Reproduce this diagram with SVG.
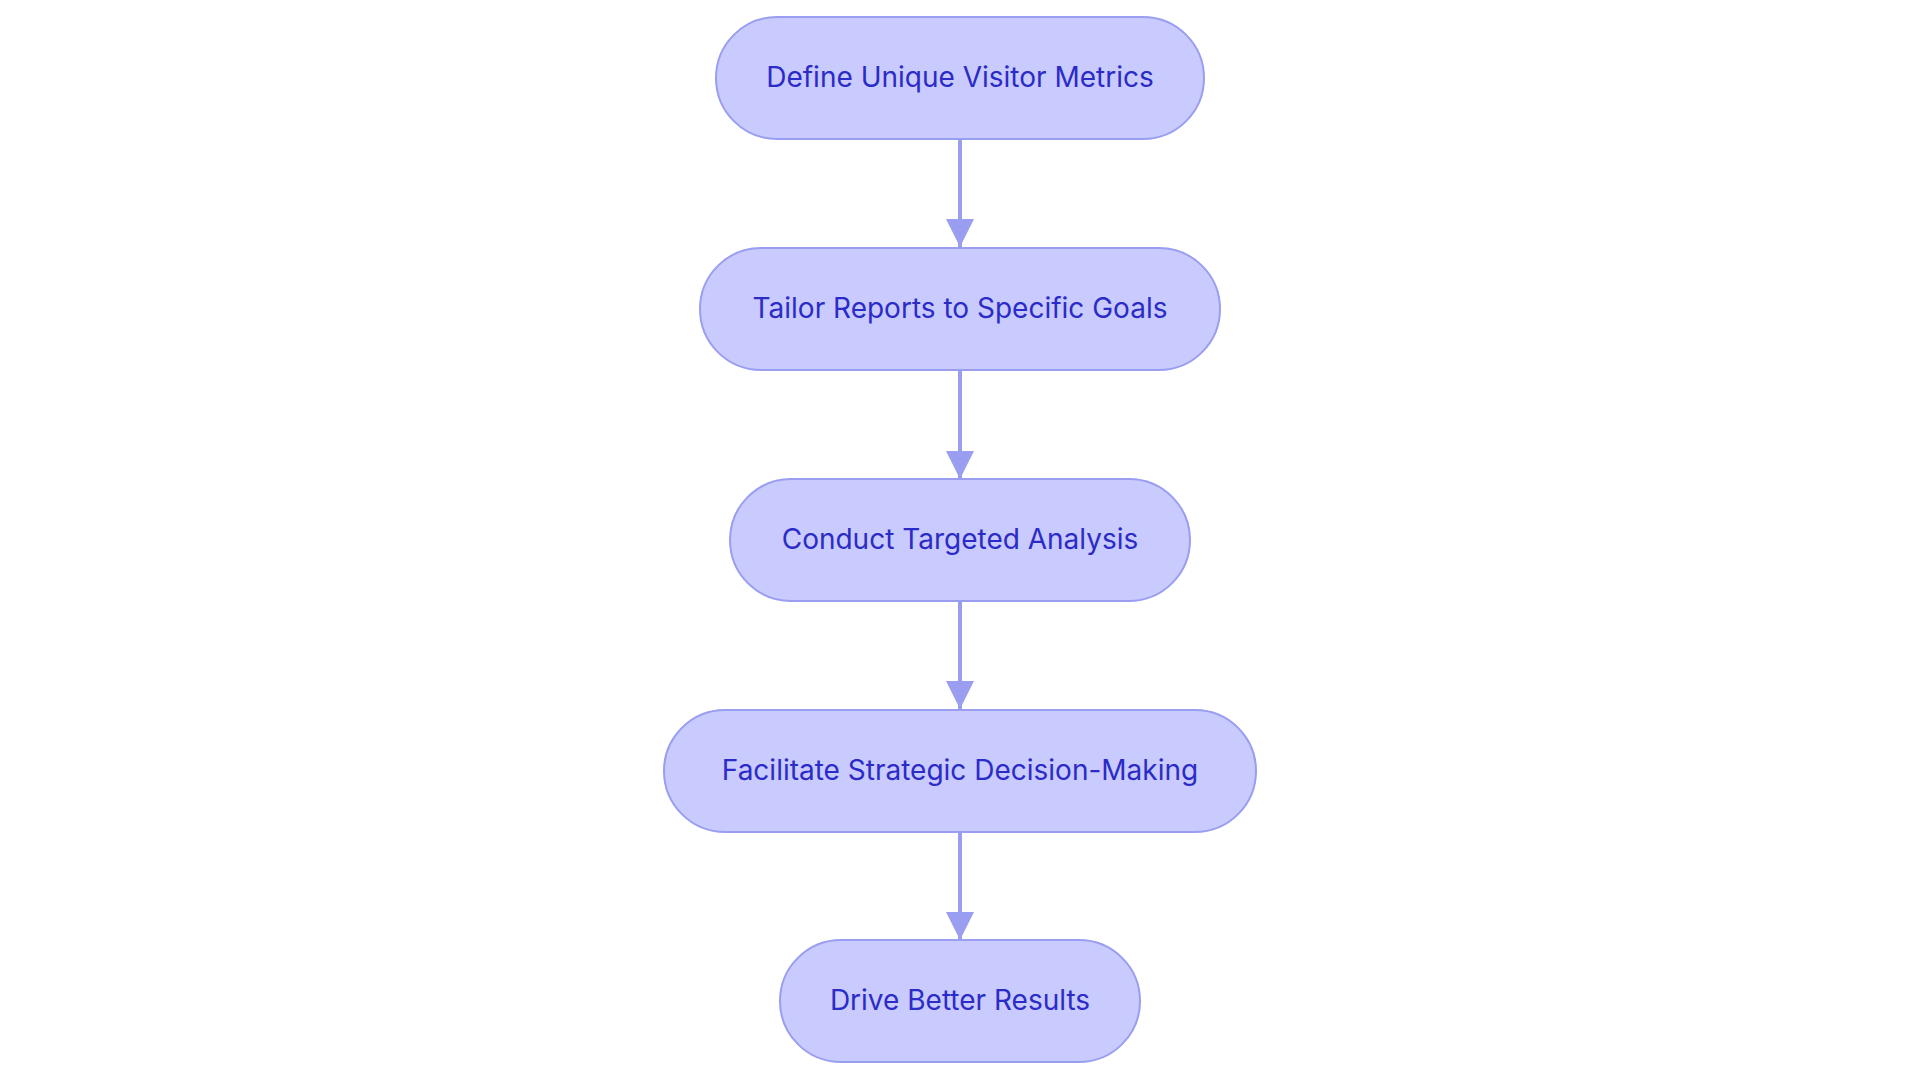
<svg xmlns="http://www.w3.org/2000/svg" width="1920" height="1083" viewBox="0 0 1920 1083">
<style>
.n{fill:#c9cafd;stroke:#9a9ef0;stroke-width:2}
.t{font-family:Inter,"Noto Sans",sans-serif;font-size:28px;fill:#2b2bc8;text-anchor:middle;dominant-baseline:central}
.e{stroke:#9a9ef0;stroke-width:4;fill:none}
</style>
<defs><marker id="a" viewBox="0 0 10 10" refX="10" refY="5" markerWidth="7" markerHeight="7" markerUnits="strokeWidth" orient="auto"><path d="M0,0L10,5L0,10z" fill="#9a9ef0"/></marker></defs>
<g id="edges">
<path class="e" d="M960,139V247" marker-end="url(#a)"/>
<path class="e" d="M960,370V479" marker-end="url(#a)"/>
<path class="e" d="M960,601V709" marker-end="url(#a)"/>
<path class="e" d="M960,832V940" marker-end="url(#a)"/>
</g>
<g id="n1"><rect class="n" x="716" y="17" width="488" height="122" rx="61"/><text class="t" x="960" y="77">Define Unique Visitor Metrics</text></g>
<g id="n2"><rect class="n" x="700" y="248" width="520" height="122" rx="61"/><text class="t" x="960" y="308">Tailor Reports to Specific Goals</text></g>
<g id="n3"><rect class="n" x="730" y="479" width="460" height="122" rx="61"/><text class="t" x="960" y="539">Conduct Targeted Analysis</text></g>
<g id="n4"><rect class="n" x="664" y="710" width="592" height="122" rx="61"/><text class="t" x="960" y="770">Facilitate Strategic Decision-Making</text></g>
<g id="n5"><rect class="n" x="780" y="940" width="360" height="122" rx="61"/><text class="t" x="960" y="1000">Drive Better Results</text></g>
</svg>
